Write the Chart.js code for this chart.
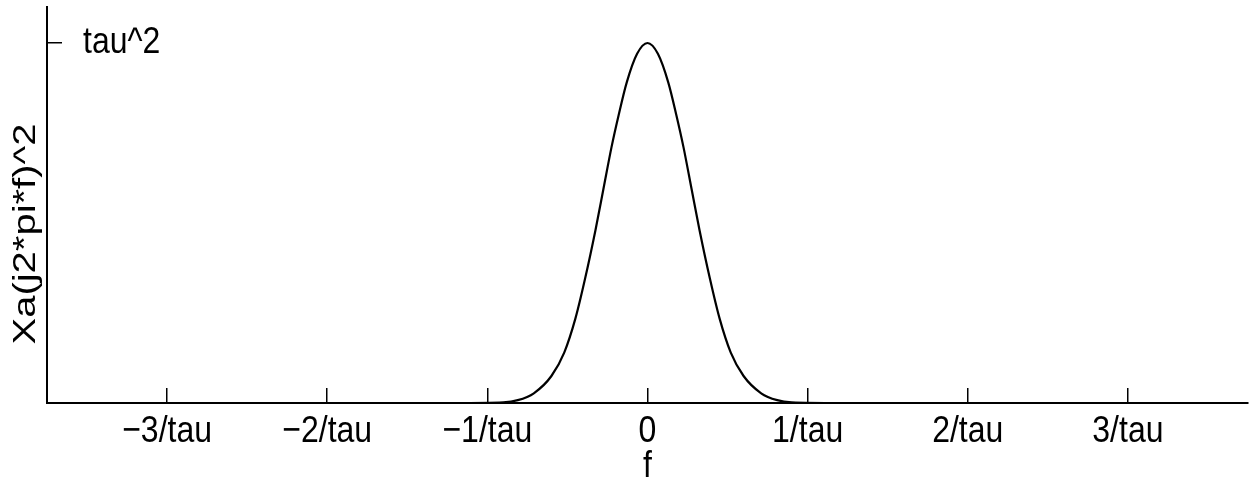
<!DOCTYPE html>
<html>
<head>
<title>Xa spectrum</title>
<script src="https://cdn.jsdelivr.net/npm/chart.js"></script>
<style>
    body {
        margin: 0;
        background: #ffffff;
    }

    .chart-wrapper {
        width: 1260px;
        height: 480px;
    }
</style>
</head>
<body>
<div class="chart-wrapper">
    <canvas id="spectrumChart"></canvas>
</div>

<script>
    // values (f in units of 1/tau, height in units of tau^2)
    const freq = [-3.75, -1.2, -0.9, -0.81, -0.71, -0.6, -0.52, -0.45, -0.39, -0.325, -0.275, -0.225, -0.18, -0.13, -0.065, 0,
        0.065, 0.13, 0.18, 0.225, 0.275, 0.325, 0.39, 0.45, 0.52, 0.6, 0.71, 0.81, 0.9, 1.2, 3.75];
    const power = [0, 0, 0.002, 0.008, 0.027, 0.075, 0.14, 0.235, 0.345, 0.48, 0.595, 0.71, 0.80, 0.89, 0.97, 1.0,
        0.97, 0.89, 0.80, 0.71, 0.595, 0.48, 0.345, 0.235, 0.14, 0.075, 0.027, 0.008, 0.002, 0, 0];

    // axis ticks and titles
    const xTickValues = [-3, -2, -1, 0, 1, 2, 3];
    const xTickLabels = ['\u22123/tau', '\u22122/tau', '\u22121/tau', '0', '1/tau', '2/tau', '3/tau'];
    const yTickValues = [1];
    const yTickLabels = ['tau^2'];
    const xTitle = 'f';
    const yTitle = 'Xa(j2*pi*f)^2';

    const FONT = "'Liberation Sans', Arial, Helvetica, sans-serif";
    const V_STRETCH = 1.18;   // the original picture is a bit taller than wide
    Chart.defaults.font.family = FONT;
    Chart.defaults.color = '#000000';

    // stretch every text vertically around its anchor, like the original scan
    const stretchText = {
        id: 'stretchText',
        beforeDraw(chart) {
            const c = chart.ctx;
            if (c.plainFillText) return;
            c.plainFillText = c.fillText.bind(c);
            c.fillText = function (text, x, y, maxWidth) {
                c.save();
                c.translate(x, y);
                c.scale(1, V_STRETCH);
                if (maxWidth === undefined) c.plainFillText(text, 0, 0);
                else c.plainFillText(text, 0, 0, maxWidth);
                c.restore();
            };
        }
    };

    // vertical title, stretched along its length
    const yTitlePlugin = {
        id: 'yTitle',
        afterDraw(chart) {
            const c = chart.ctx;
            c.save();
            c.translate(26, 234);
            c.rotate(-Math.PI / 2);
            c.scale(1.25, 1);
            c.font = '32px ' + FONT;
            c.fillStyle = '#000000';
            c.textAlign = 'center';
            c.textBaseline = 'middle';
            (c.plainFillText || c.fillText).call(c, yTitle, 0, 0);
            c.restore();
        }
    };

    const ctx = document.getElementById('spectrumChart').getContext('2d');

    new Chart(ctx, {
        type: 'line',
        data: {
            datasets: [{
                data: freq.map((f, i) => ({ x: f, y: power[i] })),
                borderColor: '#000000',
                borderWidth: 2.2,
                pointRadius: 0,
                fill: false,
                cubicInterpolationMode: 'monotone'
            }]
        },
        options: {
            responsive: true,
            maintainAspectRatio: false,
            animation: false,
            layout: { padding: { top: 7, right: 12, left: 0, bottom: 0 } },
            plugins: {
                legend: { display: false },
                tooltip: { enabled: false }
            },
            scales: {
                x: {
                    type: 'linear',
                    min: -3.75,
                    max: 3.75,
                    afterBuildTicks: s => { s.ticks = xTickValues.map(v => ({ value: v })); },
                    afterFit: s => {
                        s.height = 77;
                        s.paddingLeft = 0;
                        s.paddingRight = 0;
                    },
                    ticks: {
                        callback: v => xTickLabels[xTickValues.indexOf(v)],
                        font: { size: 32 },
                        padding: 24,
                        maxRotation: 0,
                        autoSkip: false
                    },
                    grid: { drawOnChartArea: false, tickLength: -15, color: '#000000', lineWidth: 1.5 },
                    border: { color: '#000000', width: 2 },
                    title: { display: true, text: xTitle, font: { size: 32 }, padding: { top: 0, bottom: -6 } }
                },
                y: {
                    min: 0,
                    max: 1.1,
                    afterBuildTicks: s => { s.ticks = yTickValues.map(v => ({ value: v })); },
                    afterFit: s => {
                        s.width = 47;
                        s.paddingTop = 0;
                        s.paddingBottom = 0;
                    },
                    ticks: {
                        callback: v => yTickLabels[yTickValues.indexOf(v)],
                        font: { size: 32 },
                        mirror: true,
                        padding: 36
                    },
                    grid: { drawOnChartArea: false, tickLength: -15, color: '#000000', lineWidth: 1.5 },
                    border: { color: '#000000', width: 2 }
                }
            }
        },
        plugins: [stretchText, yTitlePlugin]
    });
</script>
</body>
</html>
